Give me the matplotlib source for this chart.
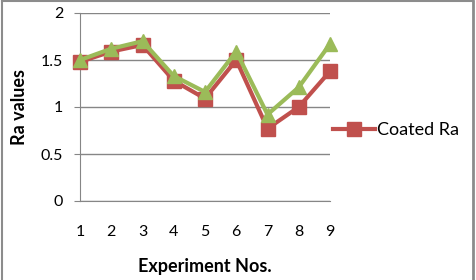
import matplotlib.pyplot as plt
from matplotlib.lines import Line2D

plt.rcParams['font.family'] = ['Lato', 'DejaVu Sans']

experiments = [1, 2, 3, 4, 5, 6, 7, 8, 9]
coated_ra = [1.48, 1.59, 1.66, 1.28, 1.09, 1.50, 0.77, 1.00, 1.38]
other_ra = [1.50, 1.62, 1.70, 1.33, 1.16, 1.59, 0.92, 1.21, 1.67]

red = '#C0504D'
green = '#9BBB59'
grid_col = '#868686'

fig = plt.figure(figsize=(4.76, 2.80), dpi=100)
ax = fig.add_axes([80 / 476, 1 - 201 / 280, 250 / 476, 188 / 280])

ax.plot(experiments, coated_ra, color=red, lw=3, marker='s', ms=10,
        clip_on=False, zorder=3)
ax.plot(experiments, other_ra, color=green, lw=3, marker='^', ms=10,
        clip_on=False, zorder=4)

ax.set_xlim(1, 9)
ax.set_ylim(0, 2)
ax.set_yticks([0, 0.5, 1, 1.5, 2])
ax.set_yticklabels(['0', '0.5', '1', '1.5', '2'])
ax.set_xticks(experiments)
ax.grid(axis='y', color=grid_col, lw=1)
ax.set_axisbelow(True)
for s in ['top', 'right']:
    ax.spines[s].set_visible(False)
ax.spines['left'].set_color(grid_col)
ax.spines['bottom'].set_color(grid_col)
ax.tick_params(axis='y', length=4, color=grid_col, pad=8, labelsize=11.5)
ax.tick_params(axis='x', length=0, pad=17, labelsize=11.5)

ax.set_ylabel('Ra values', fontsize=13, fontweight='bold', labelpad=9)
ax.set_xlabel('Experiment Nos.', fontsize=13, fontweight='bold', labelpad=14)

handle = Line2D([], [], color=red, lw=3, marker='s', ms=10)
fig.legend([handle], ['Coated Ra'], loc='center left',
           bbox_to_anchor=(324 / 476, 1 - 130 / 280), frameon=False,
           fontsize=13, handlelength=2.3, handletextpad=0.15, borderpad=0)

# outer frame
fig.add_artist(Line2D([2 / 476, 2 / 476], [0, 1 - 1 / 280], color='#8c8c8c', lw=1.5))
fig.add_artist(Line2D([2 / 476, 473 / 476], [1 - 1 / 280, 1 - 1 / 280], color='#8c8c8c', lw=1.5))
fig.add_artist(Line2D([473 / 476, 473 / 476], [0, 1 - 1 / 280], color='#8c8c8c', lw=2))

fig.savefig('out.png', dpi=100)
